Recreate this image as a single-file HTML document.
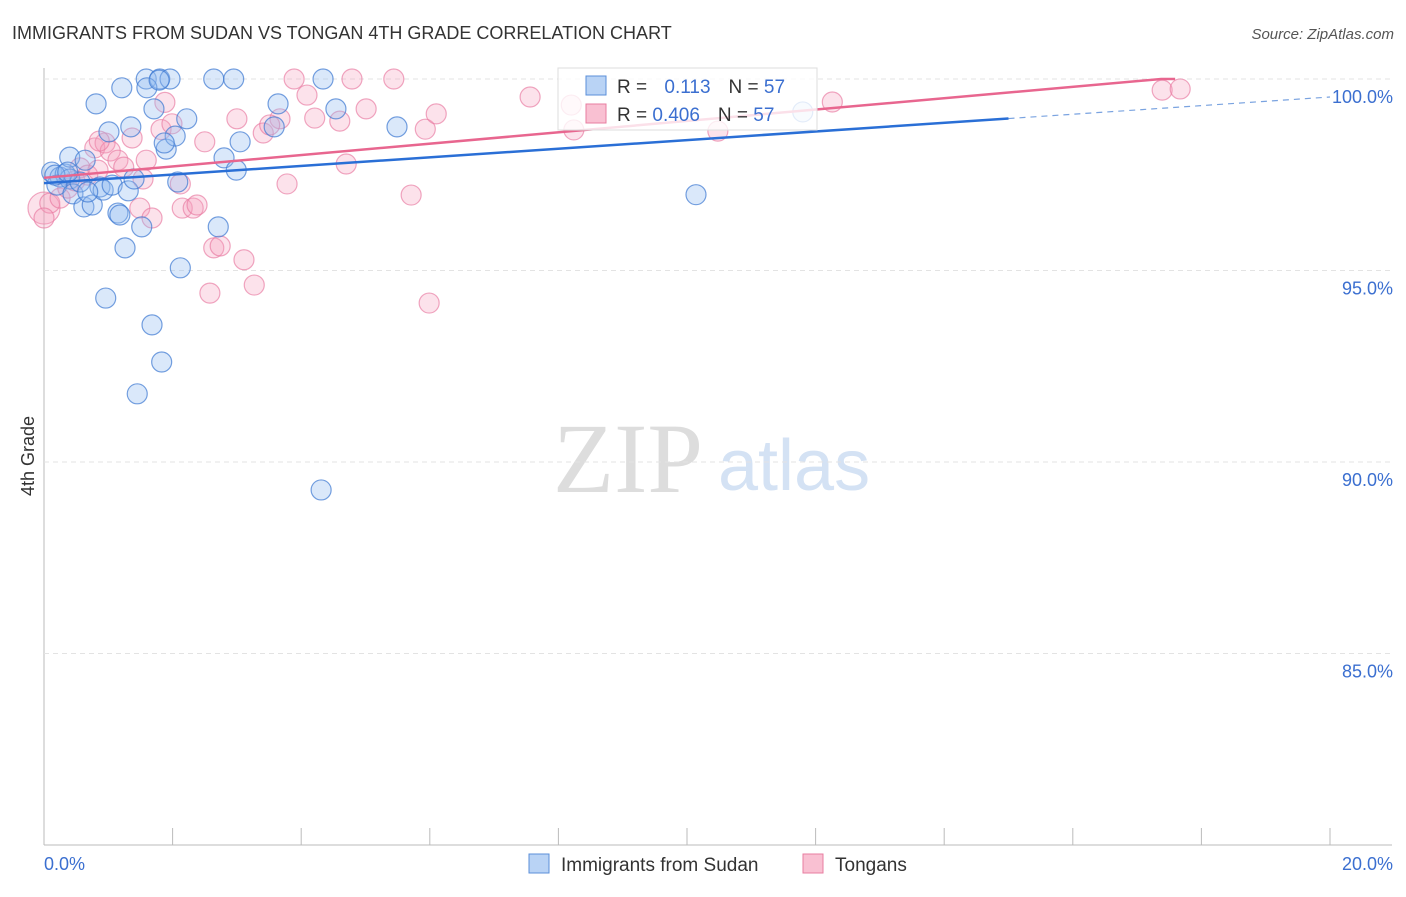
<!DOCTYPE html>
<html><head><meta charset="utf-8"><style>
body{margin:0;background:#fff;font-family:"Liberation Sans",sans-serif}
svg text{font-family:"Liberation Sans",sans-serif}
</style></head><body>
<svg id="c" width="1406" height="892">
<text x="12" y="39" font-size="18" fill="#333">IMMIGRANTS FROM SUDAN VS TONGAN 4TH GRADE CORRELATION CHART</text>
<text x="1394" y="39" font-size="15" fill="#555" font-style="italic" text-anchor="end">Source: ZipAtlas.com</text>
<text x="553" y="492" font-size="100" fill="#ddd" font-family="Liberation Serif" style="font-family:'Liberation Serif',serif">ZIP</text>
<text x="718" y="490" font-size="72" fill="#d4e2f4">atlas</text>
<text x="34" y="456" font-size="18" fill="#333" text-anchor="middle" transform="rotate(-90 34 456)">4th Grade</text>
<g id="grid"></g><g id="pts"></g><g id="lines"></g>
<g>
<rect x="558" y="68" width="259" height="62" fill="rgba(255,255,255,0.8)" stroke="#ddd"/>
<rect x="586" y="76" width="20" height="19" fill="#b9d3f5" stroke="#5b8fd9"/>
<rect x="586" y="104" width="20" height="19" fill="#f9c0d2" stroke="#e87ea0"/>
<text x="617" y="93" font-size="19" fill="#333">R = <tspan fill="#3b6fd0" dx="12">0.113</tspan><tspan dx="18" fill="#333">N = </tspan><tspan fill="#3b6fd0">57</tspan></text>
<text x="617" y="121" font-size="19" fill="#333">R = <tspan fill="#3b6fd0">0.406</tspan><tspan dx="18" fill="#333">N = </tspan><tspan fill="#3b6fd0">57</tspan></text>
</g>
<g>
<rect x="529" y="854" width="20" height="19" fill="#b9d3f5" stroke="#5b8fd9"/>
<text x="561" y="871" font-size="19" fill="#333">Immigrants from Sudan</text>
<rect x="803" y="854" width="20" height="19" fill="#f9c0d2" stroke="#e87ea0"/>
<text x="835" y="871" font-size="19" fill="#333">Tongans</text>
</g>
</svg>
<script>
const yTicks=[100,95,90,85];
const yTickLabels=["100.0%","95.0%","90.0%","85.0%"];
const xTickLabels=["0.0%","20.0%"];
const sudanX=[0.12,0.25,0.33,0.40,0.20,0.45,0.62,0.75,0.56,0.87,0.92,1.06,1.15,1.18,1.31,1.40,1.52,1.26,0.96,1.68,1.83,1.45,2.12,2.08,2.71,2.80,2.99,3.05,3.58,3.64,4.54,2.22,1.71,1.35,0.81,1.21,1.59,1.80,1.96,1.60,1.79,2.64,2.95,4.34,5.49,10.14,4.31,1.90,2.04,1.01,0.40,0.64,1.87,0.17,0.37,0.68,11.80];
const sudanY=[97.57,97.44,97.52,97.39,97.23,97.0,96.66,96.71,97.31,97.18,97.10,97.23,96.50,96.45,97.08,97.39,96.14,95.59,94.28,93.58,92.61,91.78,95.07,97.31,96.14,97.94,97.62,98.36,98.75,99.35,99.22,98.96,99.22,98.75,99.35,99.77,100,100,100,99.77,99.97,100,100,100,98.75,96.98,89.27,98.17,98.51,98.62,97.96,97.88,98.33,97.49,97.57,97.05,99.14];
const tonganX=[0.0,0.09,0.25,0.37,0.48,0.56,0.68,0.79,0.84,0.95,1.03,1.15,1.24,1.37,1.49,1.59,1.54,1.68,1.82,1.88,1.99,2.12,2.15,2.32,2.38,2.50,2.58,2.64,2.74,3.00,3.11,3.27,3.41,3.67,3.78,3.89,4.09,4.21,4.60,4.70,4.79,5.01,5.44,5.71,5.93,5.99,6.10,7.56,8.20,8.24,10.48,12.26,17.39,17.67,0.0,0.86,3.51];
const tonganY=[96.63,96.76,96.89,97.15,97.34,97.68,97.49,98.20,97.62,98.33,98.12,97.88,97.70,98.46,96.63,97.88,97.39,96.37,98.68,99.39,98.83,97.26,96.63,96.63,96.71,98.36,94.41,95.59,95.64,98.96,95.28,94.62,98.59,98.96,97.26,100,99.58,98.98,98.9,97.78,100,99.22,100,96.97,98.69,94.15,99.09,99.53,99.32,98.67,98.64,99.40,99.71,99.74,96.37,98.38,98.80];
const sudanLine={a:97.28,b:0.1125,solidTo:15.0};
const tonganLine={a:97.42,b:0.1485};
const X=v=>44+v*64.3, Y=v=>79+(100-v)*38.3;
const NS="http://www.w3.org/2000/svg";
function mk(tag,attrs,parent){const e=document.createElementNS(NS,tag);for(const k in attrs)e.setAttribute(k,attrs[k]);parent.appendChild(e);return e;}
const grid=document.getElementById('grid');
const ax=mk('line',{x1:44,y1:68,x2:44,y2:845,stroke:'#bbb'},grid);


const bx=mk('line',{x1:44,y1:845,x2:1392,y2:845,stroke:'#bbb'},grid);


yTicks.forEach((t,i)=>{
 const g=mk('line',{x1:44,y1:Y(t),x2:1392,y2:Y(t),stroke:'#e3e3e3','stroke-dasharray':'5,4'},grid);
 
 
 const l=mk('text',{x:1393,y:Y(t)+24,'font-size':18,fill:'#3b6fd0','text-anchor':'end'},grid);
 l.textContent=yTickLabels[i];
 
 
});
for(let i=0;i<=10;i++){
 const t=mk('line',{x1:X(i*2),y1:828,x2:X(i*2),y2:845,stroke:'#bbb'},grid);
 
 
}
[[0,'start',44],[20,'end',1393]].forEach((d,i)=>{
 const l=mk('text',{x:d[2],y:870,'font-size':18,fill:'#3b6fd0','text-anchor':d[1]},grid);
 l.textContent=xTickLabels[i];
 
 
});
const pts=document.getElementById('pts');
tonganX.forEach((x,i)=>{
 const c=mk('circle',{cx:X(x),cy:Y(tonganY[i]),r:(x===0&&i===0)?16:10,fill:'rgba(246,160,190,0.3)',stroke:'rgba(232,120,160,0.65)','stroke-width':1.2},pts);
 
 
});
sudanX.forEach((x,i)=>{
 const c=mk('circle',{cx:X(x),cy:Y(sudanY[i]),r:10,fill:'rgba(150,190,240,0.35)',stroke:'rgba(60,120,210,0.7)','stroke-width':1.2},pts);
 
 
});
const lines=document.getElementById('lines');
const s=sudanLine;
const l1=mk('line',{x1:X(0),y1:Y(s.a),x2:X(s.solidTo),y2:Y(s.a+s.b*s.solidTo),stroke:'#2a6fd6','stroke-width':2.5},lines);


const l2=mk('line',{x1:X(s.solidTo),y1:Y(s.a+s.b*s.solidTo),x2:X(20),y2:Y(s.a+s.b*20),stroke:'#7aa3e0','stroke-width':1.2,'stroke-dasharray':'6,5'},lines);


const t=tonganLine, xe=(100-t.a)/t.b;
const l3=mk('polyline',{points:`${X(0)},${Y(t.a)} ${X(xe)},${Y(100)} ${X(xe)+14},${Y(100)}`,fill:'none',stroke:'#e8668f','stroke-width':2.5},lines);


</script>
</body></html>
